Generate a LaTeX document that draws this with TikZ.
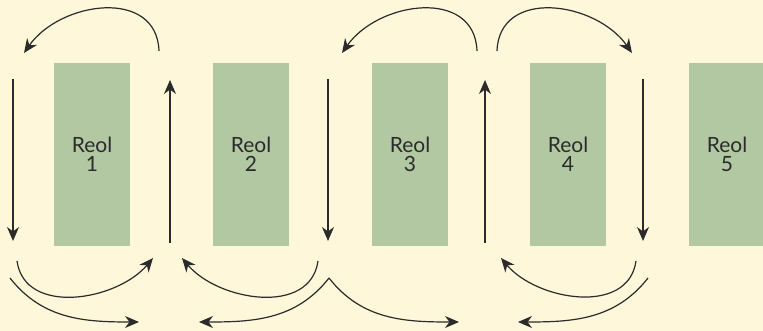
\documentclass[tikz,border=0pt]{standalone}
\usepackage{fontspec}
\setmainfont{Lato}
\usepackage{tikz}
\usetikzlibrary{arrows.meta}
\definecolor{creme}{HTML}{FEF7DA}
\definecolor{reolgroen}{HTML}{B2C8A2}
\definecolor{pilgraa}{HTML}{2B2B2B}

\begin{document}
\begin{tikzpicture}[x=1pt, y=1pt,
    reol/.style={fill=reolgroen, minimum width=76pt, minimum height=183pt, inner sep=0pt,
      align=center, text=pilgraa, font=\fontsize{21}{19}\selectfont},
    pil/.style={draw=pilgraa, line width=1.2pt,
      -{Stealth[length=14pt, width=12pt, inset=4.5pt]}}]

    \fill [creme] (0, 0) rectangle (763, 331);
    \useasboundingbox (0, 0) rectangle (763, 331);

    % reoler
    \node [reol] (a) at (92, 176.5) {Reol\\1};
    \node [reol] (b) at (251, 176.5) {Reol\\2};
    \node [reol] (c) at (410, 176.5) {Reol\\3};
    \node [reol] (d) at (568, 176.5) {Reol\\4};
    \node [reol] (e) at (727, 176.5) {Reol\\5};

    % gange
    \coordinate (f) at (13, 252);
    \coordinate (g) at (13, 90);
    \coordinate (h) at (170, 88);
    \coordinate (i) at (170, 251);
    \coordinate (j) at (328, 252);
    \coordinate (k) at (328, 90);
    \coordinate (l) at (485, 88);
    \coordinate (m) at (485, 251);
    \coordinate (n) at (643, 252);
    \coordinate (o) at (643, 90);

    % buer foroven
    \coordinate (p) at (159, 280);
    \coordinate (q) at (24, 278);
    \coordinate (r) at (477, 280);
    \coordinate (s) at (342, 278);
    \coordinate (t) at (497, 280);
    \coordinate (u) at (632, 278);

    % buer forneden
    \coordinate (v) at (17, 70);
    \coordinate (w) at (153, 73);
    \coordinate (x) at (10, 53);
    \coordinate (y) at (139, 9);
    \coordinate (z) at (318, 70);
    \coordinate (aa) at (182, 73);
    \coordinate (bb) at (329, 53);
    \coordinate (cc) at (199, 9);
    \coordinate (dd) at (459, 9);
    \coordinate (ee) at (636, 70);
    \coordinate (ff) at (501, 73);
    \coordinate (gg) at (648, 53);
    \coordinate (hh) at (518, 9);

    \draw [pil] (f) to (g);
    \draw [pil] (h) to (i);
    \draw [pil] (j) to (k);
    \draw [pil] (l) to (m);
    \draw [pil] (n) to (o);

    \draw [pil] (p) to [out=92, in=55, looseness=1.2] (q);
    \draw [pil] (r) to [out=92, in=55, looseness=1.2] (s);
    \draw [pil] (t) to [out=88, in=125, looseness=1.2] (u);

    \draw [pil] (v) to [out=-82, in=-130, looseness=1.05] (w);
    \draw [pil] (x) to [out=-52, in=180] (y);
    \draw [pil] (z) to [out=-98, in=-50, looseness=1.05] (aa);
    \draw [pil] (bb) to [out=-128, in=0] (cc);
    \draw [pil] (bb) to [out=-52, in=180] (dd);
    \draw [pil] (ee) to [out=-98, in=-50, looseness=1.05] (ff);
    \draw [pil] (gg) to [out=-128, in=0] (hh);

\end{tikzpicture}
\end{document}
